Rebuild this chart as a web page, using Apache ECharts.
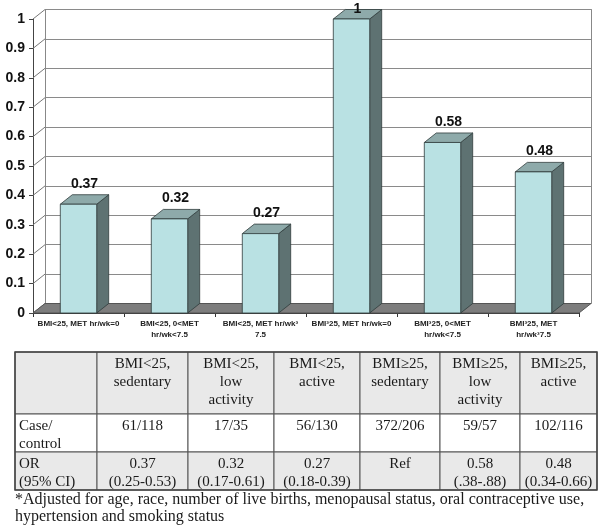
<!DOCTYPE html>
<html><head><meta charset="utf-8">
<script src="https://cdn.jsdelivr.net/npm/echarts@6/dist/echarts.min.js"></script>
<style>html,body{margin:0;padding:0;background:#fff}#c{width:603px;height:527px}</style>
</head><body><div id="c"></div>
<script>
// ---------- data ----------
const categories = ['BMI<25, MET hr/wk=0', 'BMI<25, 0<MET\nhr/wk<7.5', 'BMI<25, MET hr/wk\u00b3\n7.5', 'BMI\u00b325, MET hr/wk=0', 'BMI\u00b325, 0<MET\nhr/wk<7.5', 'BMI\u00b325, MET\nhr/wk\u00b37.5'];
const oddsRatios = [0.37, 0.32, 0.27, 1, 0.58, 0.48];
const yTicks = [0, 0.1, 0.2, 0.3, 0.4, 0.5, 0.6, 0.7, 0.8, 0.9, 1];
const tableHeader = ['', 'BMI<25,\nsedentary', 'BMI<25,\nlow\nactivity', 'BMI<25,\nactive', 'BMI\u226525,\nsedentary', 'BMI\u226525,\nlow\nactivity', 'BMI\u226525,\nactive'];
const caseControl = ['Case/\ncontrol', '61/118', '17/35', '56/130', '372/206', '59/57', '102/116'];
const orCI = ['OR\n(95% CI)', '0.37\n(0.25-0.53)', '0.32\n(0.17-0.61)', '0.27\n(0.18-0.39)', 'Ref', '0.58\n(.38-.88)', '0.48\n(0.34-0.66)'];
const footnote = '*Adjusted for age, race, number of live births, menopausal status, oral contraceptive use,\nhypertension and smoking status';

// ---------- layout / style ----------
const DX = 12, DY = 9.5;
const FRONT = '#b9e1e3', SIDE = '#5e7272', TOPC = '#8eaaaa', EDGE = '#2e3b3b';
const SANS = '"Liberation Sans", Arial, sans-serif';
const SERIF = '"Liberation Serif", "Times New Roman", serif';
const colEdges = [15, 97, 188, 274, 360, 440, 520, 597];
const rowEdges = [352, 414, 452, 490];
const rowFill = ['#e9e9e9', '#ffffff', '#e9e9e9'];

const chart = echarts.init(document.getElementById('c'), null, {renderer: 'canvas'});

const tableRows = [tableHeader, caseControl, orCI];
const graphics = [];
tableRows.forEach((row, r) => {
  row.forEach((txt, c) => {
    const x0 = colEdges[c], x1 = colEdges[c + 1], y0 = rowEdges[r], y1 = rowEdges[r + 1];
    graphics.push({type: 'rect', z: 1, shape: {x: x0, y: y0, width: x1 - x0, height: y1 - y0},
      style: {fill: rowFill[r], stroke: '#555', lineWidth: 1}});
    graphics.push({type: 'text', z: 2, style: {text: txt, x: c === 0 ? x0 + 4 : (x0 + x1) / 2, y: y0 + 3,
      align: c === 0 ? 'left' : 'center', verticalAlign: 'top', fontSize: 15, fontFamily: SERIF,
      lineHeight: 18, fill: '#1a1a1a'}});
  });
});
graphics.push({type: 'rect', z: 3, shape: {x: colEdges[0], y: rowEdges[0], width: colEdges[7] - colEdges[0], height: rowEdges[3] - rowEdges[0]},
  style: {fill: 'none', stroke: '#444', lineWidth: 1.5}});
graphics.push({type: 'text', z: 2, style: {text: footnote, x: 15, y: 491, align: 'left', verticalAlign: 'top',
  fontSize: 16, fontFamily: SERIF, lineHeight: 17, fill: '#1a1a1a'}});

const option = {
  backgroundColor: '#fff',
  animation: false,
  grid: [
    {left: 33, right: 24, top: 19, bottom: 214, outerBoundsMode: 'none'},
    {left: 33 + DX, right: 24 - DX, top: 19 - DY, bottom: 214 + DY, outerBoundsMode: 'none'}
  ],
  xAxis: [
    {type: 'category', gridIndex: 0, data: categories,
      axisLine: {show: true, lineStyle: {color: '#333', width: 1}},
      axisTick: {show: true, length: 4, lineStyle: {color: '#333'}},
      axisLabel: {interval: 0, fontSize: 8, fontWeight: 'bold', fontFamily: SANS, color: '#222', lineHeight: 11, margin: 5}},
    {type: 'value', gridIndex: 1, show: false, min: 0, max: 1}
  ],
  yAxis: [
    {type: 'value', gridIndex: 0, min: 0, max: 1, interval: 0.1,
      axisLine: {show: true, lineStyle: {color: '#444'}},
      axisTick: {show: true, length: 4, lineStyle: {color: '#444'}},
      axisLabel: {fontSize: 14, fontWeight: 'bold', fontFamily: SANS, color: '#111', margin: 8},
      splitLine: {show: false}},
    {type: 'value', gridIndex: 1, min: 0, max: 1, interval: 0.1,
      axisLine: {show: true, lineStyle: {color: '#888'}}, axisTick: {show: false}, axisLabel: {show: false},
      splitLine: {show: true, lineStyle: {color: '#8a8a8a', width: 1}}},
    {type: 'value', gridIndex: 1, position: 'right', min: 0, max: 1, interval: 0.1,
      axisLine: {show: true, lineStyle: {color: '#888'}}, axisTick: {show: false}, axisLabel: {show: false},
      splitLine: {show: false}}
  ],
  series: [
    {type: 'custom', name: 'sideWall', xAxisIndex: 0, yAxisIndex: 0, z: 1, silent: true,
      data: yTicks.map(v => [0, v]),
      renderItem: function (params, api) {
        const y = api.coord([0, api.value(1)])[1];
        const x = params.coordSys.x;
        return {type: 'line', shape: {x1: x, y1: y, x2: x + DX, y2: y - DY}, style: {stroke: '#777', lineWidth: 1}};
      }},
    {type: 'custom', name: 'floor', xAxisIndex: 0, yAxisIndex: 0, z: 2, silent: true,
      data: [[0, 0]],
      renderItem: function (params, api) {
        const cs = params.coordSys;
        const yb = api.coord([0, 0])[1];
        return {type: 'polygon', shape: {points: [[cs.x, yb], [cs.x + cs.width, yb], [cs.x + cs.width + DX, yb - DY], [cs.x + DX, yb - DY]]},
          style: {fill: '#7d7d7d', stroke: '#555', lineWidth: 1}};
      }},
    {type: 'custom', name: 'OR', xAxisIndex: 0, yAxisIndex: 0, z: 5,
      data: oddsRatios.map((v, i) => [i, v]),
      encode: {x: 0, y: 1},
      renderItem: function (params, api) {
        const i = api.value(0), v = api.value(1);
        const top = api.coord([i, v]), base = api.coord([i, 0]);
        const bw = api.size([1, 0])[0] * 0.4;
        const x0 = top[0] - bw / 2, x1 = x0 + bw;
        const cs = params.coordSys;
        const ly = Math.max(top[1] - DY - 11, cs.y - DY);
        return {type: 'group', children: [
          {type: 'polygon', shape: {points: [[x1, top[1]], [x1 + DX, top[1] - DY], [x1 + DX, base[1] - DY], [x1, base[1]]]},
            style: {fill: SIDE, stroke: EDGE, lineWidth: 0.8}},
          {type: 'polygon', shape: {points: [[x0, top[1]], [x0 + DX, top[1] - DY], [x1 + DX, top[1] - DY], [x1, top[1]]]},
            style: {fill: TOPC, stroke: EDGE, lineWidth: 0.8}},
          {type: 'rect', shape: {x: x0, y: top[1], width: bw, height: base[1] - top[1]},
            style: {fill: FRONT, stroke: EDGE, lineWidth: 0.8}},
          {type: 'text', style: {text: String(v), x: top[0] + DX / 2, y: ly, align: 'center', verticalAlign: 'middle',
            fontSize: 14, fontWeight: 'bold', fontFamily: SANS, fill: '#111'}}
        ]};
      }}
  ],
  graphic: graphics
};
chart.setOption(option);
</script>
</body></html>
